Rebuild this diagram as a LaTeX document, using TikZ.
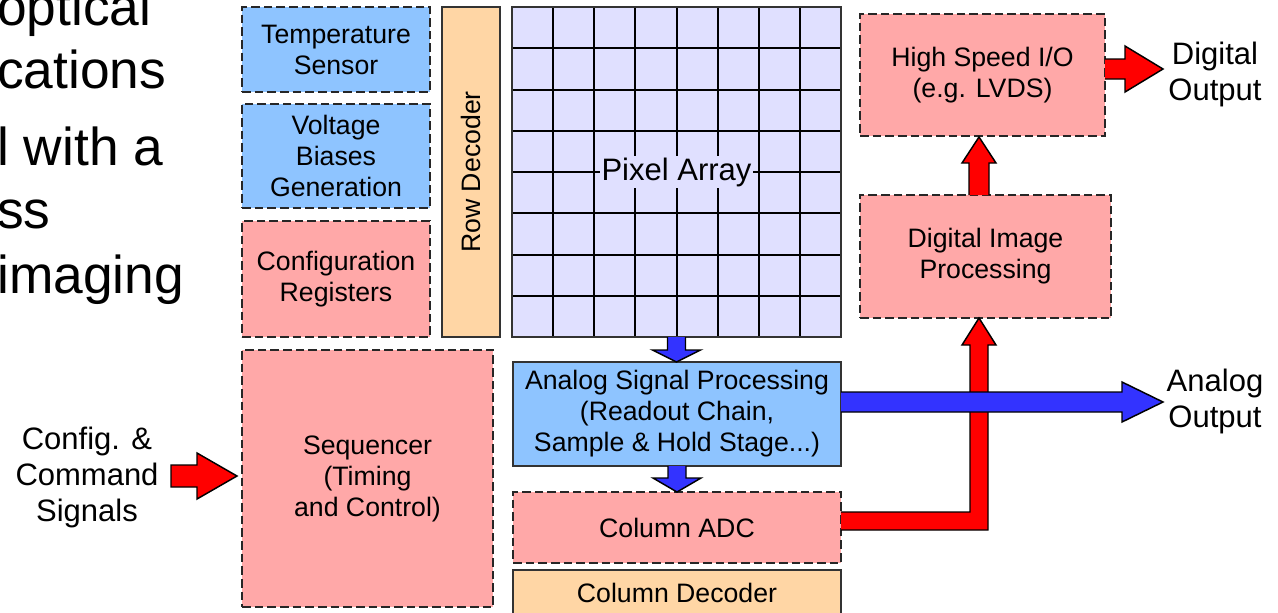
\documentclass[tikz,border=0pt]{standalone}
\usepackage{fontspec}
\setmainfont{Liberation Sans}
\usetikzlibrary{calc}
\definecolor{bluebox}{HTML}{8EC4FF}
\definecolor{pinkbox}{HTML}{FFA8A8}
\definecolor{orangebox}{HTML}{FFD6A5}
\definecolor{pixfill}{HTML}{E0E0FF}
\definecolor{arrowblue}{HTML}{3333FF}
\definecolor{arrowred}{HTML}{FF0000}
\newcommand\bxfont{\fontsize{20}{23.25}\selectfont}
\newcommand\lblfont{\fontsize{23.25}{27}\selectfont}
\newcommand\bigfont{\fontsize{40}{47}\selectfont}
% block: name, style, x1, y1, x2, y2, text  (pixel coordinates)
\newcommand\blk[7]{\node[#2, minimum width={(#5-#3)*0.75pt}, minimum height={(#6-#4)*0.75pt}] (#1) at ({(#3+#5)/2},{(#4+#6)/2}) {#7};}
\begin{document}
\begin{tikzpicture}[x=0.75pt,y=-0.75pt,
  box/.style={inner sep=0pt, outer sep=0pt, align=center, font=\bxfont, line width=1.3pt},
  dbox/.style={box, draw=black!85, dash pattern=on 6.5pt off 3pt},
  sbox/.style={box, draw=black!80},
  gridline/.style={draw=black, line width=1.5pt},
  fatred/.style={fill=arrowred, draw=black, line width=1.1pt, line join=miter},
  fatblue/.style={fill=arrowblue, draw=black, line width=1.1pt, line join=miter},
  lbl/.style={align=center, font=\lblfont, inner sep=0pt},
  bigtxt/.style={font=\bigfont, inner sep=0pt, anchor=base west}]
\useasboundingbox (0,0) rectangle (1278,612);
\clip (0,0) rectangle (1278,612);

% left slide text fragments
\node[bigtxt] (t1) at (-3,25) {optical};
\node[bigtxt] (t2) at (-3,88) {cations};
\node[bigtxt] (t3) at (-3,165) {l with a};
\node[bigtxt] (t4) at (-3,228) {ss};
\node[bigtxt] (t5) at (-3,293) {imaging};

% left column blocks
\blk{temp}{dbox, fill=bluebox}{242}{7}{430}{92}{Temperature\\Sensor}
\blk{volt}{dbox, fill=bluebox}{242}{104}{430}{208}{Voltage\\Biases\\Generation}
\blk{conf}{dbox, fill=pinkbox}{242}{221}{430}{337}{Configuration\\Registers}
\blk{seq}{dbox, fill=pinkbox}{242}{350}{493}{607}{Sequencer\\(Timing\\and Control)}

% row decoder
\blk{rowdec}{sbox, fill=orangebox}{442}{7}{500}{337}{}
\node[rotate=90, font=\bxfont, inner sep=0pt] (rowlbl) at (rowdec.center) {Row Decoder};

% pixel array
\blk{pix}{box, fill=pixfill}{512}{7}{841}{337}{}
\foreach \i in {1,...,7} {
  \draw[gridline] ($(pix.north west)!\i/8!(pix.north east)$) -- ($(pix.south west)!\i/8!(pix.south east)$);
  \draw[gridline] ($(pix.north west)!\i/8!(pix.south west)$) -- ($(pix.north east)!\i/8!(pix.south east)$);
}
\node[fill=pixfill, inner sep=1pt, font=\lblfont] (pixlbl) at (pix.center) {Pixel Array};
\draw[draw=black!80, line width=1.3pt] (pix.north west) rectangle (pix.south east);

% column blocks
\blk{asp}{sbox, fill=bluebox}{513}{362}{841}{466}{Analog Signal Processing\\(Readout Chain,\\Sample \& Hold Stage...)}
\blk{adc}{dbox, fill=pinkbox}{513}{492}{841}{563}{Column ADC}
\blk{coldec}{sbox, fill=orangebox}{513}{570}{841}{616}{Column Decoder}

% right blocks
\blk{hsio}{dbox, fill=pinkbox}{860}{14}{1105}{136}{High Speed I/O\\(e.g. LVDS)}
\blk{dip}{dbox, fill=pinkbox}{860}{195}{1111}{318}{Digital Image\\Processing}

% labels
\node[lbl] (dout) at (1215,74) {Digital\\Output};
\node[lbl] (aout) at (1215,401) {Analog\\Output};
\node[lbl] (cfg) at (87,477) {Config. \&\\Command\\Signals};

% arrows
\draw[fatred] ($(seq.west)+(-71,-13.5)$) -- ++(26,0) -- ++(0,-12) -- ++(40,23) -- ++(-40,23) -- ++(0,-12) -- ++(-26,0) -- cycle;
\draw[fatblue] ($(pix.south)+(-9,0)$) -- ++(0,13) -- ++(-15,0) -- ++(24,12) -- ++(24,-12) -- ++(-15,0) -- ++(0,-13);
\draw[fatblue] ($(asp.south)+(-9,0)$) -- ++(0,12) -- ++(-15,0) -- ++(24,14) -- ++(24,-14) -- ++(-15,0) -- ++(0,-12);
\draw[fatred] ($(adc.east)+(0,-15.5)$) -- ++(129,0) -- ++(0,-167) -- ++(-8,0) -- ++(17,-27) -- ++(17,27) -- ++(-8,0) -- ++(0,185) -- ++(-147,0);
\draw[fatblue] ($(asp.east)+(0,-22)$) -- ++(281,0) -- ++(0,-10) -- ++(41,20) -- ++(-41,20) -- ++(0,-10) -- ++(-281,0);
\draw[fatred] ($(dip.north)+(-16.5,0)$) -- ++(0,-32) -- ++(-7,0) -- ++(17,-26) -- ++(17,26) -- ++(-7,0) -- ++(0,32);
\draw[fatred] ($(hsio.east)+(0,-16)$) -- ++(20,0) -- ++(0,-13) -- ++(38,23) -- ++(-38,23) -- ++(0,-13) -- ++(-20,0);
\end{tikzpicture}
\end{document}
